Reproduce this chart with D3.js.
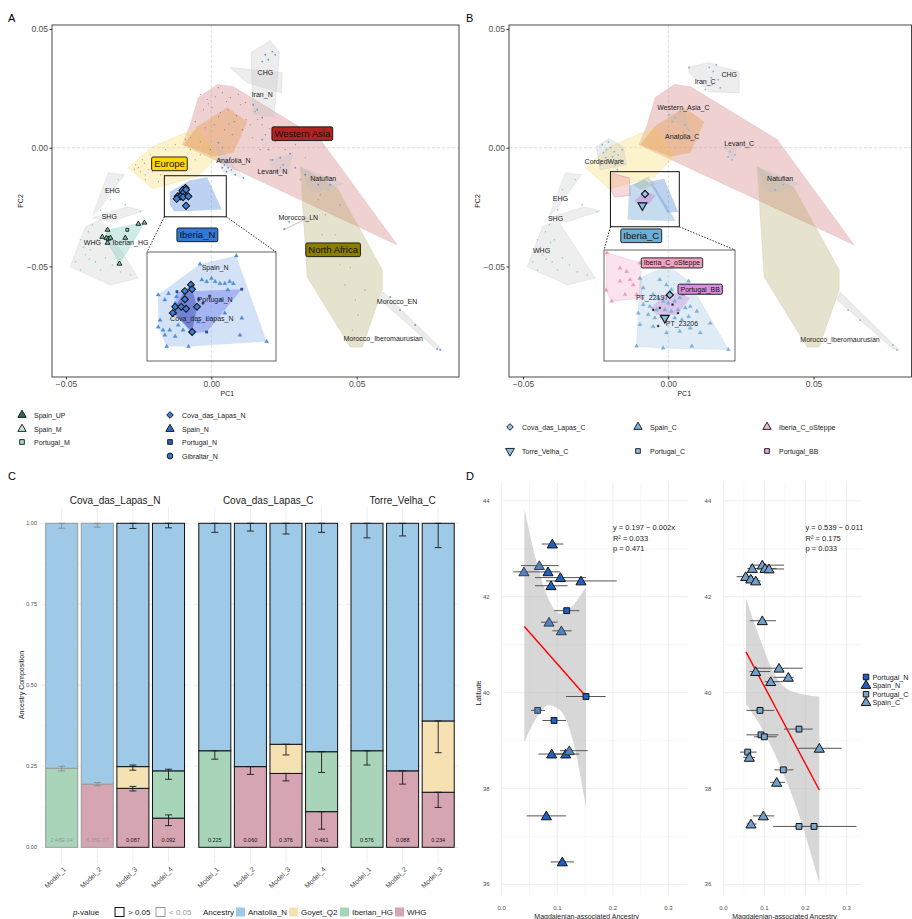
<!DOCTYPE html>
<html lang="en">
<head>
<meta charset="UTF-8" />
<title>PCA, qpAdm models and latitude</title>
<script src="https://d3js.org/d3.v7.min.js"></script>
<style>
  body { margin: 0; background: #fff; }
  svg { display: block; }
  text { font-family: "Liberation Sans", Arial, sans-serif; }
</style>
</head>
<body>
<svg width="912" height="919"></svg>
<script>
// ---------------- data: PCA reference hulls (PC1, PC2) ----------------
const westernAsiaHull = [[-0.0072,0.0097],[-0.0045,0.0211],[0.0021,0.0266],[0.0076,0.0257],[0.0375,0.0034],[0.0639,-0.0409],[-0.0100,0.0013]];
const europeHull = [[-0.0285,-0.0084],[-0.0203,0.0004],[-0.0048,0.0084],[0.0021,-0.0038],[-0.0048,-0.0122],[-0.0203,-0.0173]];
const anatoliaHull = [[-0.0096,0.0013],[-0.0048,0.0089],[0.0055,0.0169],[0.0124,0.0110],[0.0076,-0.0021],[0.0007,-0.0038]];
const northAfricaHull = [[0.0306,-0.0080],[0.0433,-0.0169],[0.0588,-0.0515],[0.0588,-0.0599],[0.0519,-0.0840],[0.0478,-0.0840],[0.0330,-0.0544]];
const natufianHull = [[0.0306,-0.0080],[0.0454,-0.0152],[0.0368,-0.0190],[0.0333,-0.0186]];
const ehgHull = [[-0.0354,-0.0105],[-0.0299,-0.0114],[-0.0381,-0.0253],[-0.0409,-0.0287]];
const shgHull = [[-0.0409,-0.0295],[-0.0289,-0.0249],[-0.0234,-0.0266],[-0.0347,-0.0312]];
const whgHull = [[-0.0485,-0.0502],[-0.0433,-0.0333],[-0.0381,-0.0304],[-0.0251,-0.0549],[-0.0347,-0.0578]];
const moroccoIbHull = [[0.0591,-0.0608],[0.0794,-0.0852],[0.0770,-0.0844],[0.0581,-0.0641]];
// panel A only
const iranNHull = [[0.0137,0.0401],[0.0203,0.0451],[0.0234,0.0401],[0.0216,0.0131],[0.0144,0.0139]];
const chgHullA = [[0.0065,0.0338],[0.0244,0.0316],[0.0241,0.0232],[0.0124,0.0274]];
const levantNHull = [[0.0203,-0.0051],[0.0282,-0.0021],[0.0265,-0.0114],[0.0203,-0.0093]];
const anatoliaNHull = [[0.0014,0.0021],[0.0072,-0.0059],[0.0110,-0.0127],[0.0038,-0.0101],[0.0024,-0.0051]];
const moroccoLNHull = [[0.0247,-0.0346],[0.0330,-0.0295],[0.0332,-0.0297],[0.0249,-0.0348]];
const iberianHGHull = [[-0.0357,-0.0346],[-0.0230,-0.0316],[-0.0316,-0.0489],[-0.0364,-0.0380]];
// panel B only
const chgIranCHull = [[0.0069,0.0338],[0.0141,0.0359],[0.0175,0.0342],[0.0244,0.0321],[0.0244,0.0232],[0.0141,0.0236],[0.0072,0.0316]];
const cordedWareHull = [[-0.0247,0.0004],[-0.0206,0.0038],[-0.0155,0.0004],[-0.0144,-0.0072],[-0.0234,-0.0093]];
const westernAsiaCHull = [[0.0003,0.0139],[0.0058,0.0152],[0.0069,0.0076],[0.0014,0.0110]];
const levantCHull = [[0.0196,0.0000],[0.0241,0.0013],[0.0230,-0.0030],[0.0220,-0.0051]];
const iberiaCHull = [[-0.0065,-0.0143],[-0.0014,-0.0131],[0.0034,-0.0270],[-0.0003,-0.0274]];
const iberiaCMixHull = [[-0.0120,-0.0156],[-0.0069,-0.0122],[-0.0045,-0.0156],[-0.0096,-0.0177]];

// ---------------- data: PCA background samples ----------------
const westernAsiaDots = [[-0.0038,0.0224],[-0.0014,0.0203],[0.0014,0.0215],[0.0038,0.0232],[0.0065,0.0211],[0.0093,0.0224],[0.0117,0.0190],
  [-0.0027,0.0160],[0.0003,0.0169],[0.0031,0.0148],[0.0058,0.0160],[0.0086,0.0135],[0.0120,0.0118],[0.0151,0.0152],[0.0175,0.0097],
  [-0.0055,0.0110],[-0.0021,0.0084],[0.0010,0.0097],[0.0045,0.0076],[0.0072,0.0055],[0.0107,0.0076],[0.0141,0.0042],[0.0186,0.0055],
  [0.0220,0.0025],[0.0254,-0.0008],[0.0289,0.0013],[0.0323,-0.0042],[-0.0072,0.0042],[-0.0038,0.0025],[-0.0003,-0.0008],[0.0038,0.0000],
  [0.0168,-0.0008],[0.0203,-0.0051],[0.0237,-0.0084],[0.0306,-0.0135],[0.0375,-0.0198],[0.0443,-0.0241],[0.0100,0.0181],[0.0024,0.0253],
  [0.0134,0.0097],[0.0079,0.0110],[0.0052,0.0194],[-0.0010,0.0185],[0.0025,0.0130],[0.0060,0.0100],[0.0160,0.0120],[0.0200,0.0080],[0.0250,0.0040]];
const europeDots = [[-0.0261,-0.0072],[-0.0237,-0.0051],[-0.0216,-0.0093],[-0.0244,-0.0101],[-0.0192,-0.0072],[-0.0175,-0.0114],
  [-0.0210,-0.0030],[-0.0158,-0.0008],[-0.0124,0.0013],[-0.0089,0.0034],[-0.0141,-0.0051],[-0.0107,-0.0072],[-0.0055,-0.0051],
  [-0.0227,-0.0135],[-0.0182,-0.0143],[-0.0072,-0.0008],[-0.0038,-0.0030],[-0.0251,-0.0084],[-0.0227,-0.0114],[-0.0203,-0.0101],
  [-0.0230,-0.0065],[-0.0200,-0.0060],[-0.0265,-0.0090],[-0.0170,-0.0080]];
const northAfricaDots = [[0.0368,-0.0219],[0.0392,-0.0283],[0.0381,-0.0367],[0.0409,-0.0430],[0.0443,-0.0494],[0.0478,-0.0506],
  [0.0460,-0.0578],[0.0495,-0.0641],[0.0505,-0.0705],[0.0529,-0.0599],[0.0426,-0.0367],[0.0347,-0.0135],[0.0402,-0.0177],[0.0485,-0.0768]];
const nearEastDotsA = [[0.0031,-0.0051],[0.0045,-0.0072],[0.0058,-0.0084],[0.0052,-0.0101],[0.0069,-0.0093],[0.0038,-0.0084],
  [0.0082,-0.0114],[0.0110,-0.0127],[0.0024,0.0021],[0.0065,-0.0042],[0.0052,-0.0059],
  [0.0210,-0.0051],[0.0237,-0.0042],[0.0247,-0.0072],[0.0271,-0.0025],[0.0227,-0.0101],[0.0289,-0.0084],[0.0175,0.0034],[0.0196,-0.0008],
  [0.0186,0.0392],[0.0196,0.0371],[0.0210,0.0405],[0.0175,0.0363],[0.0220,0.0392],[0.0158,0.0160],[0.0175,0.0127],[0.0144,0.0181],
  [0.0368,-0.0156],[0.0409,-0.0156],[0.0323,-0.0114],[0.0251,-0.0342],[0.0268,-0.0312],
  [0.0615,-0.0629],[0.0649,-0.0684],[0.0701,-0.0747],[0.0777,-0.0848],[0.0787,-0.0852]];
const hunterGathererDots = [[-0.0450,-0.0388],[-0.0433,-0.0451],[-0.0467,-0.0481],[-0.0416,-0.0430],[-0.0399,-0.0481],[-0.0381,-0.0515],
  [-0.0364,-0.0464],[-0.0423,-0.0354],[-0.0409,-0.0325],[-0.0340,-0.0494],[-0.0313,-0.0523],[-0.0278,-0.0536],[-0.0450,-0.0515],
  [-0.0392,-0.0388],[-0.0381,-0.0262],[-0.0347,-0.0219],[-0.0320,-0.0135],[-0.0364,-0.0177],[-0.0296,-0.0241],[-0.0244,-0.0270],
  [-0.0440,-0.0420],[-0.0420,-0.0470],[-0.0405,-0.0400]];
const nearEastDotsB = [[0.0141,0.0338],[0.0155,0.0321],[0.0165,0.0350],[0.0148,0.0295],[0.0172,0.0287],[0.0151,0.0266],[0.0179,0.0253],
  [0.0127,0.0245],[0.0072,0.0338],[0.0003,0.0139],[0.0024,0.0127],[0.0041,0.0152],[0.0058,0.0097],[0.0069,0.0076],[0.0014,0.0110],
  [0.0052,0.0063],[0.0076,0.0046],[0.0041,0.0034],[0.0196,0.0000],[0.0213,-0.0017],[0.0230,-0.0030],[0.0206,-0.0038],[0.0241,0.0013],
  [0.0220,-0.0051],[0.0368,-0.0177],[0.0395,-0.0156],[0.0344,-0.0135],[0.0619,-0.0684],[0.0660,-0.0726],[0.0773,-0.0831],[0.0787,-0.0852]];
const cordedWareDots = [[-0.0227,0.0013],[-0.0213,-0.0008],[-0.0199,0.0000],[-0.0186,-0.0017],[-0.0172,-0.0030],[-0.0216,-0.0042],
  [-0.0199,-0.0059],[-0.0182,-0.0072],[-0.0165,-0.0051],[-0.0158,-0.0008],[-0.0234,-0.0072],[-0.0206,0.0025],[-0.0223,-0.0021],
  [-0.0192,-0.0038],[-0.0175,-0.0093]];

// ---------------- data: focal Iberian samples ----------------
const spainHG = [[-0.0357,-0.0346],[-0.0375,-0.0376],[-0.0361,-0.0380],[-0.0354,-0.0384],[-0.0347,-0.0380],[-0.0296,-0.0380],
  [-0.0251,-0.0321],[-0.0230,-0.0316],[-0.0316,-0.0489],[-0.0357,-0.0401]];
const portugalM = [[-0.0289,-0.0346]];
const covaDasLapasN = [[-0.0089,-0.0170],[-0.0099,-0.0180],[-0.0087,-0.0177],[-0.0099,-0.0193],[-0.0115,-0.0205],
  [-0.0105,-0.0205],[-0.0097,-0.0208],[-0.0079,-0.0205],[-0.0119,-0.0215],[-0.0087,-0.0245]];
const spainN = [[-0.0014,-0.0124],[-0.0074,-0.0137],[-0.0143,-0.0186],[-0.0126,-0.0184],[-0.0113,-0.0189],[-0.0071,-0.0162],
  [-0.0063,-0.0165],[-0.0055,-0.0160],[-0.0049,-0.0165],[-0.0041,-0.0168],[-0.0033,-0.0168],[-0.0025,-0.0165],[-0.0019,-0.0168],
  [-0.0132,-0.0194],[-0.0115,-0.0199],[-0.0140,-0.0226],[-0.0143,-0.0237],[-0.0135,-0.0242],[-0.0124,-0.0242],[-0.0132,-0.0250],
  [-0.0115,-0.0252],[-0.0129,-0.0268],[-0.0110,-0.0234],[-0.0102,-0.0242],[-0.0077,-0.0229],[-0.0060,-0.0223],[-0.0033,-0.0215],
  [-0.0005,-0.0223],[-0.0008,-0.0250],[0.0036,-0.0260],[-0.0028,-0.0178],[-0.0039,-0.0194],[-0.0093,-0.0268]];
const portugalN = [[-0.0112,-0.0181],[-0.0005,-0.0177],[-0.0063,-0.0245],[-0.0087,-0.0247],[-0.0115,-0.0215],
  [-0.0076,-0.0193],[-0.0069,-0.0199],[-0.0058,-0.0188]];
const spainC = [[-0.0083,-0.0134],[-0.0134,-0.0160],[-0.0098,-0.0163],[-0.0086,-0.0174],[-0.0077,-0.0184],[-0.0110,-0.0194],
  [-0.0101,-0.0201],[-0.0092,-0.0208],[-0.0083,-0.0212],[-0.0071,-0.0208],[-0.0062,-0.0201],[-0.0056,-0.0194],[-0.0128,-0.0215],
  [-0.0116,-0.0219],[-0.0104,-0.0226],[-0.0089,-0.0226],[-0.0077,-0.0229],[-0.0065,-0.0226],[-0.0052,-0.0222],[-0.0043,-0.0219],
  [-0.0119,-0.0236],[-0.0107,-0.0243],[-0.0095,-0.0240],[-0.0071,-0.0243],[-0.0058,-0.0247],[-0.0046,-0.0240],[-0.0031,-0.0229],
  [-0.0134,-0.0257],[-0.0110,-0.0261],[-0.0062,-0.0271],[-0.0043,-0.0264],[-0.0007,-0.0254],[-0.0025,-0.0274],[-0.0140,-0.0302],
  [-0.0092,-0.0306],[-0.0040,-0.0302],[0.0026,-0.0309],[-0.0137,-0.0233],[-0.0086,-0.0274],[-0.0046,-0.0166],[-0.0128,-0.0180]];
const iberiaCoSteppe = [[-0.0194,-0.0107],[-0.0134,-0.0128],[-0.0130,-0.0201],[-0.0185,-0.0208],[-0.0195,-0.0185],[-0.0170,-0.0139],
  [-0.0158,-0.0146],[-0.0152,-0.0163],[-0.0170,-0.0166],[-0.0146,-0.0174],[-0.0161,-0.0194],[-0.0140,-0.0194]];
const portugalBB = [[-0.0116,-0.0222],[-0.0080,-0.0187],[-0.0043,-0.0201],[-0.0067,-0.0237],[-0.0103,-0.0237]];
const portugalBBDots = [[-0.0110,-0.0226],[-0.0098,-0.0222],[-0.0065,-0.0233],[-0.0101,-0.0260],[-0.0075,-0.0215]];
const covaDasLapasC = [[-0.0080,-0.0195]];
const torreVelhaC = [[-0.0089,-0.0243]];

// ---------------- data: panel C (qpAdm models) ----------------
const cFacets = ["Cova_das_Lapas_N", "Cova_das_Lapas_C", "Torre_Velha_C"];
const cModels = [["Model_1","Model_2","Model_3","Model_4"], ["Model_1","Model_2","Model_3","Model_4"], ["Model_1","Model_2","Model_3"]];
const ancestries = ["WHG", "Iberian_HG", "Goyet_Q2", "Anatolia_N"]; // stacked bottom to top
const propWHG       = [0, 0.195, 0.182, 0.090,  0, 0.249, 0.228, 0.110,  0, 0.236, 0.170];
const propIberianHG = [0.244, 0, 0, 0.146,  0.298, 0, 0, 0.185,  0.298, 0, 0];
const propGoyetQ2   = [0, 0, 0.067, 0,  0, 0, 0.090, 0,  0, 0, 0.220];
const propAnatoliaN = [0.756, 0.805, 0.751, 0.764,  0.702, 0.751, 0.682, 0.705,  0.702, 0.764, 0.610];
const errorBars = [
  [[0.236,0.250],[0.985,1.0]], [[0.190,0.200],[0.988,1.0]], [[0.174,0.188],[0.238,0.254],[0.984,1.0]], [[0.067,0.100],[0.210,0.241],[0.986,1.0]],
  [[0.272,0.298],[0.972,1.0]], [[0.225,0.249],[0.976,1.0]], [[0.205,0.228],[0.285,0.318],[0.967,1.0]], [[0.056,0.110],[0.231,0.295],[0.972,1.0]],
  [[0.254,0.298],[0.955,1.0]], [[0.195,0.236],[0.961,1.0]], [[0.123,0.170],[0.292,0.390],[0.925,1.0]]];
const pValues = ["2.48E-04","6.35E-07","0.087","0.092","0.225","0.060","0.376","0.461","0.576","0.088","0.234"];

// ---------------- data: panel D (ancestry vs latitude) ----------------
// [ancestry, latitude, lower, upper, group, faded]
const neolithicPoints = [
  [0.0910,43.10,0.0720,0.1110,"Spain_N",0],[0.0677,42.65,0.0347,0.1025,"Spain_N",1],[0.0400,42.52,0.0209,0.0629,"Spain_N",1],
  [0.0833,42.52,0.0629,0.1049,"Spain_N",0],[0.1055,42.40,0.0599,0.1516,"Spain_N",0],[0.1426,42.33,0.0797,0.2068,"Spain_N",0],
  [0.0887,42.23,0.0599,0.1187,"Spain_N",0],[0.1169,41.71,0.0946,0.1396,"Portugal_N",0],[0.0851,41.47,0.0707,0.1001,"Spain_N",1],
  [0.1073,41.29,0.0911,0.1259,"Spain_N",1],[0.1516,39.92,0.1157,0.1870,"Portugal_N",0],[0.0647,39.63,0.0527,0.0779,"Portugal_N",1],
  [0.0941,39.42,0.0731,0.1157,"Portugal_N",0],[0.0899,38.72,0.0659,0.1110,"Spain_N",0],[0.1151,38.72,0.0929,0.1396,"Spain_N",0],
  [0.1216,38.79,0.1049,0.1546,"Spain_N",1],[0.0803,37.43,0.0449,0.1157,"Spain_N",0],[0.1090,36.47,0.0881,0.1301,"Spain_N",0]];
const chalcolithicPoints = [
  [0.0949,42.66,0.0650,0.1477,"Spain_C"],[0.0706,42.59,0.0588,0.0953,"Spain_C"],[0.1015,42.59,0.0929,0.1294,"Spain_C"],
  [0.1112,42.58,0.1010,0.1477,"Spain_C"],[0.0545,42.42,0.0326,0.0732,"Spain_C"],[0.0667,42.37,0.0488,0.0853,"Spain_C"],
  [0.0788,42.33,0.0650,0.0910,"Spain_C"],[0.0949,41.50,0.0642,0.1282,"Spain_C"],[0.1355,40.51,0.0772,0.1933,"Spain_C"],
  [0.0788,40.44,0.0642,0.1140,"Spain_C"],[0.1582,40.32,0.1221,0.1707,"Spain_C"],[0.1153,40.23,0.1010,0.1456,"Spain_C"],
  [0.0893,39.63,0.0561,0.1241,"Portugal_C"],[0.1842,39.24,0.1477,0.2174,"Portugal_C"],[0.0917,39.12,0.0561,0.1343,"Portugal_C"],
  [0.0998,39.08,0.0750,0.1300,"Portugal_C"],[0.2336,38.84,0.1825,0.2880,"Spain_C"],[0.0594,38.76,0.0407,0.0812,"Portugal_C"],
  [0.0633,38.65,0.0488,0.0772,"Spain_C"],[0.1460,38.39,0.1241,0.1707,"Portugal_C"],[0.1299,38.13,0.1140,0.1505,"Spain_C"],
  [0.0974,37.43,0.0723,0.1241,"Spain_C"],[0.0674,37.26,0.0569,0.0812,"Spain_C"],[0.1842,37.21,0.1213,0.2400,"Portugal_C"],
  [0.2207,37.21,0.1700,0.3241,"Portugal_C"]];
const fitNeolithic = [[0.0407,41.38],[0.1516,39.92]];
const bandNeolithicX = [0.0407,0.0627,0.0836,0.1046,0.1286,0.1516];
const bandNeolithicHi = [43.83,42.73,41.97,41.65,41.83,42.21];
const bandNeolithicLo = [38.97,39.47,39.74,39.64,38.98,37.59];
const fitChalcolithic = [[0.0552,40.85],[0.2336,37.97]];
const bandChalcolithicX = [0.0552,0.089,0.130,0.170,0.2336];
const bandChalcolithicHi = [41.97,41.13,40.30,40.02,39.92];
const bandChalcolithicLo = [39.76,39.33,38.63,37.80,36.03];
const statsNeolithic = ["y = 0.197 \u2212 0.002x", "R\u00b2 = 0.033", "p = 0.471"];
const statsChalcolithic = ["y = 0.539 \u2212 0.011x", "R\u00b2 = 0.175", "p = 0.033"];

// ---------------- helpers ----------------
const svg = d3.select("svg");
const defs = svg.append("defs");
const fmt2 = d3.format(".2f");
const TXT = "#4d4d4d";

function clip(id, x, y, w, h) {
  defs.append("clipPath").attr("id", id).append("rect").attr("x", x).attr("y", y).attr("width", w).attr("height", h);
  return `url(#${id})`;
}
function hull(g, pts, x, y, fill, op, stroke) {
  g.append("path").datum(pts)
    .attr("d", d3.line().x(d => x(d[0])).y(d => y(d[1])).curve(d3.curveLinearClosed))
    .attr("fill", fill).attr("fill-opacity", op)
    .attr("stroke", stroke || "none").attr("stroke-width", 0.6).attr("stroke-opacity", 0.7);
}
function dots(g, pts, x, y, color, r) {
  g.selectAll(null).data(pts).join("circle")
    .attr("cx", d => x(d[0])).attr("cy", d => y(d[1])).attr("r", r).attr("fill", color);
}
function marks(g, pts, x, y, type, size, fill, stroke, sw, rot) {
  const s = d3.symbol().type(type).size(size);
  g.selectAll(null).data(pts).join("path").attr("d", s)
    .attr("transform", d => `translate(${x(d[0])},${y(d[1])}) rotate(${rot || 0})`)
    .attr("fill", fill).attr("stroke", stroke).attr("stroke-width", sw);
}
function txt(g, s, px, py, size, opts = {}) {
  return g.append("text").attr("x", px).attr("y", py).attr("font-size", size)
    .attr("text-anchor", opts.anchor || "middle").attr("dominant-baseline", "central")
    .attr("fill", opts.fill || "#1a1a1a").attr("font-style", opts.italic ? "italic" : null).text(s);
}
function boxLabel(g, s, px, py, size, fill) {
  const t = txt(g, s, px, py, size, { fill: "#111" });
  const w = t.node().getComputedTextLength();
  g.insert("rect", () => t.node()).attr("x", px - w / 2 - 2.5).attr("y", py - size * 0.72)
    .attr("width", w + 5).attr("height", size * 1.44).attr("rx", 1.5)
    .attr("fill", fill).attr("stroke", "#111").attr("stroke-width", 0.9);
}

// ---------------- panels A and B: PCA ----------------
const yPC = d3.scaleLinear().domain([0.0517, -0.0966]).range([25, 377]);
const xA = d3.scaleLinear().domain([-0.0548, 0.0852]).range([52, 459]);
const xB = d3.scaleLinear().domain([-0.0548, 0.0837]).range([509, 911.5]);

function pcaFrame(x, name, letterX) {
  const [l, r] = x.range();
  const g = svg.append("g");
  const body = g.append("g").attr("clip-path", clip("clip" + name, l, 25, r - l, 352));
  body.append("line").attr("x1", x(0)).attr("x2", x(0)).attr("y1", 25).attr("y2", 377)
    .attr("stroke", "#cfcfcf").attr("stroke-dasharray", "3,2").attr("stroke-width", 0.7);
  body.append("line").attr("x1", l).attr("x2", r).attr("y1", yPC(0)).attr("y2", yPC(0))
    .attr("stroke", "#cfcfcf").attr("stroke-dasharray", "3,2").attr("stroke-width", 0.7);
  g.append("rect").attr("x", l).attr("y", 25).attr("width", r - l).attr("height", 352)
    .attr("fill", "none").attr("stroke", "#333").attr("stroke-width", 0.9);
  const ax = g.append("g").attr("transform", "translate(0,377)")
    .call(d3.axisBottom(x).tickValues([-0.05, 0, 0.05]).tickFormat(fmt2).tickSize(2.5).tickPadding(1.5));
  const ay = g.append("g").attr("transform", `translate(${l},0)`)
    .call(d3.axisLeft(yPC).tickValues([-0.05, 0, 0.05]).tickFormat(fmt2).tickSize(2.5).tickPadding(1.5));
  [ax, ay].forEach(a => {
    a.select(".domain").remove();
    a.selectAll("line").attr("stroke", "#333");
    a.selectAll("text").attr("font-size", 8.5).attr("fill", TXT).attr("font-family", "Liberation Sans, Arial, sans-serif");
  });
  txt(g, "PC1", x(0.0055), 393, 7);
  txt(g, "PC2", 0, 0, 7).attr("transform", `translate(${l - 32},201) rotate(-90)`);
  txt(g, name, letterX, 18, 11, { anchor: "start", fill: "#000" });
  return body;
}
function backgroundHulls(g, x) {
  hull(g, westernAsiaHull, x, yPC, "#d47f7f", 0.36, "#e0b0b0");
  hull(g, europeHull, x, yPC, "#f7dc6f", 0.36, "#f0e0a0");
  hull(g, anatoliaHull, x, yPC, "#e59a4f", 0.40);
  hull(g, northAfricaHull, x, yPC, "#a89f5a", 0.30, "#d0cca8");
  hull(g, natufianHull, x, yPC, "#bdbdbd", 0.28, "#cccccc");
  hull(g, ehgHull, x, yPC, "#bdbdbd", 0.25, "#d5d5d5");
  hull(g, shgHull, x, yPC, "#bdbdbd", 0.25, "#d5d5d5");
  hull(g, whgHull, x, yPC, "#bdbdbd", 0.25, "#d5d5d5");
  hull(g, moroccoIbHull, x, yPC, "#bdbdbd", 0.30, "#cccccc");
}
function zoomBox(g, x, rect, inX, inY) {
  const [x0, x1] = rect[0], [y0, y1] = rect[1];
  g.append("rect").attr("x", x(x0)).attr("y", yPC(y0)).attr("width", x(x1) - x(x0)).attr("height", yPC(y1) - yPC(y0))
    .attr("fill", "none").attr("stroke", "#111").attr("stroke-width", 1);
  const [ix0, ix1] = inX.range(), [iy0, iy1] = inY.range();
  g.append("rect").attr("x", ix0).attr("y", iy0).attr("width", ix1 - ix0).attr("height", iy1 - iy0)
    .attr("fill", "none").attr("stroke", "#555").attr("stroke-width", 0.9);
  [[x(x0), ix0], [x(x1), ix1]].forEach(([a, b]) =>
    g.append("line").attr("x1", a).attr("y1", yPC(y1)).attr("x2", b).attr("y2", iy0)
      .attr("stroke", "#111").attr("stroke-dasharray", "1.5,1.5").attr("stroke-width", 0.9));
}
const hullOf = pts => d3.polygonHull(pts.map(p => p.slice()));

// ----- panel A -----
{
  const g = pcaFrame(xA, "A", 8);
  backgroundHulls(g, xA);
  hull(g, iranNHull, xA, yPC, "#bdbdbd", 0.28, "#cccccc");
  hull(g, chgHullA, xA, yPC, "#bdbdbd", 0.28, "#cccccc");
  hull(g, levantNHull, xA, yPC, "#bdbdbd", 0.25);
  hull(g, anatoliaNHull, xA, yPC, "#bdbdbd", 0.25);
  hull(g, moroccoLNHull, xA, yPC, "#bdbdbd", 0.5, "#bbbbbb");
  hull(g, iberianHGHull, xA, yPC, "#7fcdb5", 0.38, "#9fd8c8");
  hull(g, hullOf(spainN), xA, yPC, "#5b8fe0", 0.40);
  dots(g, westernAsiaDots, xA, yPC, "#8a7272", 0.55);
  dots(g, europeDots, xA, yPC, "#9c8f6a", 0.55);
  dots(g, northAfricaDots, xA, yPC, "#8d8770", 0.55);
  dots(g, hunterGathererDots, xA, yPC, "#8fd0bc", 0.8);
  dots(g, nearEastDotsA, xA, yPC, "#5a96dc", 0.9);
  marks(g, spainHG, xA, yPC, d3.symbolTriangle, 10, "#7fcdb5", "#111", 0.9);
  marks(g, portugalM, xA, yPC, d3.symbolSquare, 8, "#a8dcc8", "#111", 0.9);
  marks(g, covaDasLapasN, xA, yPC, d3.symbolSquare, 26, "#3a7fd5", "#111", 1, 45);
  [["CHG",0.0186,0.0316],["Iran_N",0.0175,0.0224],["Anatolia_N",0.0076,-0.0055],["Levant_N",0.0210,-0.0101],
   ["Natufian",0.0385,-0.0131],["Morocco_LN",0.0299,-0.0295],["Morocco_EN",0.0639,-0.0646],
   ["Morocco_Iberomaurusian",0.0591,-0.0802],["EHG",-0.0340,-0.0181],["SHG",-0.0351,-0.0291],
   ["WHG",-0.0409,-0.0401],["Iberian_HG",-0.0278,-0.0401]]
    .forEach(([s, a, b]) => txt(g, s, xA(a), yPC(b), 7));
  boxLabel(g, "Western Asia", xA(0.0313), yPC(0.0059), 9.5, "#b22222");
  boxLabel(g, "Europe", xA(-0.0144), yPC(-0.0068), 9.5, "#ffd700");
  boxLabel(g, "Iberia_N", xA(-0.0048), yPC(-0.0367), 9.5, "#3478d4");
  boxLabel(g, "North Africa", xA(0.0419), yPC(-0.0430), 9.5, "#8b7d00");

  const inX = d3.scaleLinear().domain([-0.01615, 0.00515]).range([147, 276]);
  const inY = d3.scaleLinear().domain([-0.0118, -0.0291]).range([252, 361]);
  zoomBox(svg, xA, [[-0.01615, 0.00515], [-0.0118, -0.0291]], inX, inY);
  const gi = svg.append("g").attr("clip-path", clip("clipAin", 147, 252, 129, 109));
  hull(gi, hullOf(spainN), inX, inY, "#7aa6e6", 0.32);
  hull(gi, hullOf(portugalN), inX, inY, "#6f7ff0", 0.45);
  hull(gi, hullOf(covaDasLapasN), inX, inY, "#3444b0", 0.45);
  marks(gi, spainN, inX, inY, d3.symbolTriangle, 7, "#4a8fe0", "#3a7fd0", 0.3);
  marks(gi, portugalN, inX, inY, d3.symbolSquare, 5, "#2a5fb8", "#111", 0.4);
  marks(gi, covaDasLapasN, inX, inY, d3.symbolSquare, 24, "#3a7fd5", "#111", 1, 45);
  txt(gi, "Spain_N", inX(-0.0049), inY(-0.0142), 7);
  txt(gi, "Portugal_N", inX(-0.0049), inY(-0.0193), 7);
  txt(gi, "Cova_das_Lapas_N", inX(-0.0071), inY(-0.0223), 7);
}

// ----- panel B -----
{
  const g = pcaFrame(xB, "B", 466);
  backgroundHulls(g, xB);
  hull(g, chgIranCHull, xB, yPC, "#bdbdbd", 0.28, "#cccccc");
  hull(g, cordedWareHull, xB, yPC, "#bdbdbd", 0.28, "#cccccc");
  hull(g, westernAsiaCHull, xB, yPC, "#bdbdbd", 0.25);
  hull(g, levantCHull, xB, yPC, "#bdbdbd", 0.25);
  hull(g, hullOf(iberiaCoSteppe), xB, yPC, "#e8909e", 0.35, "#c98a96");
  hull(g, hullOf(spainC), xB, yPC, "#7fb0da", 0.45);
  hull(g, iberiaCHull, xB, yPC, "#5a8fd8", 0.40);
  hull(g, iberiaCMixHull, xB, yPC, "#9fb59a", 0.40);
  hull(g, hullOf(portugalBB), xB, yPC, "#cf7fd6", 0.45);
  dots(g, hunterGathererDots, xB, yPC, "#8fd0bc", 0.8);
  dots(g, nearEastDotsB, xB, yPC, "#7ab8dc", 0.9);
  dots(g, cordedWareDots, xB, yPC, "#7ab8dc", 0.9);
  marks(g, covaDasLapasC, xB, yPC, d3.symbolSquare, 26, "#9cc3e0", "#111", 1.1, 45);
  marks(g, torreVelhaC, xB, yPC, d3.symbolTriangle, 34, "#8cbde0", "#111", 1.1, 180);
  [["CHG",0.0210,0.0308],["Iran_C",0.0127,0.0278],["Western_Asia_C",0.0052,0.0169],["Anatolia_C",0.0048,0.0046],
   ["Levant_C",0.0244,0.0017],["Natufian",0.0385,-0.0131],["CordedWare",-0.0220,-0.0059],["EHG",-0.0371,-0.0215],
   ["SHG",-0.0388,-0.0300],["WHG",-0.0436,-0.0435],["Morocco_Iberomaurusian",0.0591,-0.0806]]
    .forEach(([s, a, b]) => txt(g, s, xB(a), yPC(b), 7));
  boxLabel(g, "Iberia_C", xB(-0.0093), yPC(-0.0371), 9.5, "#6baed6");

  const inX = d3.scaleLinear().domain([-0.0199, 0.0038]).range([604, 735]);
  const inY = d3.scaleLinear().domain([-0.0101, -0.0333]).range([250, 361]);
  zoomBox(svg, xB, [[-0.0199, 0.0038], [-0.0101, -0.0333]], inX, inY);
  const gi = svg.append("g").attr("clip-path", clip("clipBin", 604, 250, 131, 111));
  hull(gi, hullOf(iberiaCoSteppe), inX, inY, "#f29bbd", 0.28, "#f0b0c8");
  hull(gi, hullOf(spainC), inX, inY, "#9cc3e2", 0.32, "#c0d8ea");
  hull(gi, hullOf(portugalBB), inX, inY, "#cf7fd6", 0.35);
  marks(gi, iberiaCoSteppe, inX, inY, d3.symbolTriangle, 7, "#f0a0bf", "#e58aae", 0.3);
  marks(gi, spainC, inX, inY, d3.symbolTriangle, 7, "#7fb3d8", "#6aa4cc", 0.3);
  marks(gi, portugalBBDots, inX, inY, d3.symbolSquare, 3, "#222", "#111", 0.3);
  marks(gi, covaDasLapasC, inX, inY, d3.symbolSquare, 26, "#9cc3e0", "#111", 1.1, 45);
  marks(gi, torreVelhaC, inX, inY, d3.symbolTriangle, 34, "#8cbde0", "#111", 1.1, 180);
  boxLabel(gi, "Iberia_C_oSteppe", inX(-0.0076), inY(-0.0128), 7, "#f4a0c0");
  boxLabel(gi, "Portugal_BB", inX(-0.0025), inY(-0.0183), 7, "#d98ee0");
  txt(gi, "PT_22197", inX(-0.0112), inY(-0.0201), 7);
  txt(gi, "PT_23206", inX(-0.0058), inY(-0.0254), 7);
}

// ----- legends A / B -----
{
  const g = svg.append("g");
  const items = [
    [22, 415, "Spain_UP", d3.symbolTriangle, 30, "#2e6e62", 0],
    [22, 429, "Spain_M", d3.symbolTriangle, 30, "#bfe6da", 0],
    [22, 442, "Portugal_M", d3.symbolSquare, 22, "#a8dcc8", 0],
    [170, 415, "Cova_das_Lapas_N", d3.symbolSquare, 22, "#3a7fd5", 45],
    [170, 429, "Spain_N", d3.symbolTriangle, 30, "#2a6cc8", 0],
    [170, 442, "Portugal_N", d3.symbolSquare, 22, "#2a5fb8", 0],
    [170, 456, "Gibraltar_N", d3.symbolCircle, 26, "#3a75c8", 0],
    [510, 427, "Cova_das_Lapas_C", d3.symbolSquare, 22, "#9cc3e0", 45],
    [510, 451, "Torre_Velha_C", d3.symbolTriangle, 34, "#8cbde0", 180],
    [638, 427, "Spain_C", d3.symbolTriangle, 30, "#7ab0d8", 0],
    [638, 451, "Portugal_C", d3.symbolSquare, 22, "#8fc0e0", 0],
    [767, 427, "Iberia_C_oSteppe", d3.symbolTriangle, 30, "#f4b6cf", 0],
    [767, 451, "Portugal_BB", d3.symbolSquare, 22, "#e8a9d9", 0]];
  items.forEach(([px, py, s, type, size, fill, rot]) => {
    g.append("path").attr("d", d3.symbol().type(type).size(size)())
      .attr("transform", `translate(${px},${py}) rotate(${rot})`)
      .attr("fill", fill).attr("stroke", "#111").attr("stroke-width", 0.9);
    txt(g, s, px + 12, py, 7, { anchor: "start" });
  });
}

// ---------------- panel C: qpAdm stacked bars ----------------
{
  const g = svg.append("g");
  txt(g, "C", 8, 476, 11, { anchor: "start", fill: "#000" });
  const y = d3.scaleLinear().domain([0, 1]).range([847.3, 523.3]);
  const colors = { WHG: "#d5a5b1", Iberian_HG: "#a8d5b9", Goyet_Q2: "#f5e1b2", Anatolia_N: "#9ecae8" };
  const props = { WHG: propWHG, Iberian_HG: propIberianHG, Goyet_Q2: propGoyetQ2, Anatolia_N: propAnatoliaN };
  const facetRanges = [[43.9, 186.3], [197, 339.4], [349.2, 456]];
  let k = 0;
  cFacets.forEach((facet, fi) => {
    const [f0, f1] = facetRanges[fi];
    const x = d3.scaleBand().domain(cModels[fi]).range([f0, f1]).paddingInner(0.1).paddingOuter(0.05);
    d3.range(0, 1.001, 0.125).forEach((v, i) =>
      g.append("line").attr("x1", f0 - 3).attr("x2", f1 + 3).attr("y1", y(v)).attr("y2", y(v))
        .attr("stroke", i % 2 ? "#f3f3f3" : "#e6e6e6").attr("stroke-width", i % 2 ? 0.5 : 0.7));
    cModels[fi].forEach(m =>
      g.append("line").attr("x1", x(m) + x.bandwidth() / 2).attr("x2", x(m) + x.bandwidth() / 2)
        .attr("y1", 507).attr("y2", 863).attr("stroke", "#e6e6e6").attr("stroke-width", 0.7));
    txt(g, facet, (f0 + f1) / 2, 500, 10, { fill: "#1a1a1a" });
    cModels[fi].forEach(m => {
      const sig = +pValues[k] > 0.05;
      const edge = sig ? "#111" : "#9a9a9a";
      let cum = 0;
      ancestries.forEach(a => {
        const v = props[a][k];
        if (v > 0) {
          g.append("rect").attr("x", x(m)).attr("width", x.bandwidth())
            .attr("y", y(cum + v)).attr("height", y(cum) - y(cum + v))
            .attr("fill", colors[a]).attr("stroke", edge).attr("stroke-width", 1);
        }
        cum += v;
      });
      const cx = x(m) + x.bandwidth() / 2;
      errorBars[k].forEach(([lo, hi]) => {
        const eg = g.append("g").attr("stroke", sig ? "#1a1a1a" : "#8a8a8a").attr("stroke-width", 0.9);
        eg.append("line").attr("x1", cx).attr("x2", cx).attr("y1", y(lo)).attr("y2", y(hi));
        [lo, hi].forEach(v => eg.append("line").attr("x1", cx - 3.5).attr("x2", cx + 3.5).attr("y1", y(v)).attr("y2", y(v)));
      });
      txt(g, pValues[k], cx, 840, 5.5, { fill: sig ? "#111" : "#9a9a9a" });
      txt(g, m, 0, 0, 7, { anchor: "end", fill: TXT }).attr("transform", `translate(${cx + 3},${868}) rotate(-45)`);
      k++;
    });
  });
  [0, 0.25, 0.5, 0.75, 1].forEach(v => txt(g, fmt2(v), 37, y(v), 5.5, { anchor: "end", fill: TXT }));
  txt(g, "Ancestry Composition", 0, 0, 7).attr("transform", "translate(21,685) rotate(-90)");
  const ly = 912;
  const lp = g.append("text").attr("x", 86).attr("y", ly).attr("font-size", 8).attr("text-anchor", "middle")
    .attr("dominant-baseline", "central").attr("fill", "#1a1a1a");
  lp.append("tspan").attr("font-style", "italic").text("p");
  lp.append("tspan").text("-value");
  [[115, "#111", "> 0.05", "#1a1a1a"], [156, "#9a9a9a", "< 0.05", "#9a9a9a"]].forEach(([bx, st, s, f]) => {
    g.append("rect").attr("x", bx).attr("y", ly - 4.5).attr("width", 9).attr("height", 9)
      .attr("fill", "#fff").attr("stroke", st).attr("stroke-width", 1);
    txt(g, s, bx + 13, ly, 8, { anchor: "start", fill: f });
  });
  txt(g, "Ancestry", 203, ly, 8, { anchor: "start" });
  [["Anatolia_N", 236], ["Goyet_Q2", 289], ["Iberian_HG", 340], ["WHG", 395]].forEach(([a, bx]) => {
    g.append("rect").attr("x", bx).attr("y", ly - 4.5).attr("width", 9).attr("height", 9).attr("fill", colors[a]);
    txt(g, a, bx + 12, ly, 8, { anchor: "start" });
  });
}

// ---------------- panel D: Magdalenian ancestry vs latitude ----------------
{
  const g = svg.append("g");
  txt(g, "D", 466, 476, 11, { anchor: "start", fill: "#000" });
  const y = d3.scaleLinear().domain([35.78, 44.4]).range([895, 481.7]);
  const styles = {
    Spain_N: [d3.symbolTriangle, "#1f62c4"], Portugal_N: [d3.symbolSquare, "#1f62c4"],
    Spain_C: [d3.symbolTriangle, "#6f9fca"], Portugal_C: [d3.symbolSquare, "#7fa8cc"] };
  function subplot(x, pts, fit, bx, bhi, blo, stats, id) {
    const [l, r] = x.range();
    [0.05, 0.15, 0.25].forEach(v => g.append("line").attr("x1", x(v)).attr("x2", x(v)).attr("y1", 481.7).attr("y2", 895)
      .attr("stroke", "#f2f2f2").attr("stroke-width", 0.6));
    [37, 39, 41, 43].forEach(v => g.append("line").attr("x1", l).attr("x2", r).attr("y1", y(v)).attr("y2", y(v))
      .attr("stroke", "#f2f2f2").attr("stroke-width", 0.6));
    [0, 0.1, 0.2, 0.3].forEach(v => {
      g.append("line").attr("x1", x(v)).attr("x2", x(v)).attr("y1", 481.7).attr("y2", 895).attr("stroke", "#e8e8e8").attr("stroke-width", 0.8);
      txt(g, v.toFixed(1), x(v), 908, 6, { fill: TXT });
    });
    [36, 38, 40, 42, 44].forEach(v => {
      g.append("line").attr("x1", l).attr("x2", r).attr("y1", y(v)).attr("y2", y(v)).attr("stroke", "#e8e8e8").attr("stroke-width", 0.8);
      txt(g, v, l - 12, y(v), 6, { anchor: "end", fill: TXT });
    });
    const band = bx.map((v, i) => [v, blo[i], bhi[i]]);
    g.append("path").datum(band)
      .attr("d", d3.area().x(d => x(d[0])).y0(d => y(d[1])).y1(d => y(d[2])).curve(d3.curveMonotoneX))
      .attr("fill", "#bdbdbd").attr("fill-opacity", 0.6);
    g.append("line").attr("x1", x(fit[0][0])).attr("y1", y(fit[0][1])).attr("x2", x(fit[1][0])).attr("y2", y(fit[1][1]))
      .attr("stroke", "#ff0000").attr("stroke-width", 1.4);
    pts.forEach(p => g.append("line").attr("x1", x(p[2])).attr("x2", x(p[3])).attr("y1", y(p[1])).attr("y2", y(p[1]))
      .attr("stroke", "#555").attr("stroke-width", 1));
    pts.forEach(p => {
      const [type, fill] = styles[p[4]];
      const tri = type === d3.symbolTriangle;
      g.append("path").attr("d", d3.symbol().type(type).size(tri ? 44 : 34)())
        .attr("transform", `translate(${x(p[0])},${y(p[1]) + (tri ? 1 : 0)})`)
        .attr("fill", p[5] ? "#4f82c6" : fill).attr("stroke", p[5] ? "#3a3a3a" : "#111").attr("stroke-width", 1);
    });
    const tg = g.append("g").attr("clip-path", clip(id, l, 481, r - l + 1, 420));
    stats.forEach((s, i) => txt(tg, s, x(0.2), 527.7 + i * 10.3, 7.5, { anchor: "start" }));
    txt(g, "Magdalenian-associated Ancestry", (l + r) / 2 - 8, 916, 7);
  }
  subplot(d3.scaleLinear().domain([0, 0.3345]).range([501.7, 687.7]), neolithicPoints, fitNeolithic,
    bandNeolithicX, bandNeolithicHi, bandNeolithicLo, statsNeolithic, "clipD1");
  subplot(d3.scaleLinear().domain([0, 0.3367]).range([723.3, 861.7]), chalcolithicPoints, fitChalcolithic,
    bandChalcolithicX, bandChalcolithicHi, bandChalcolithicLo, statsChalcolithic, "clipD2");
  txt(g, "Latitude", 0, 0, 7).attr("transform", "translate(478,693) rotate(-90)");
  ["Portugal_N", "Spain_N", "Portugal_C", "Spain_C"].forEach((s, i) => {
    const [type, fill] = styles[s];
    const py = 677 + i * 8.6;
    g.append("path").attr("d", d3.symbol().type(type).size(type === d3.symbolTriangle ? 40 : 30)())
      .attr("transform", `translate(866,${py})`).attr("fill", fill).attr("stroke", "#111").attr("stroke-width", 1);
    txt(g, s, 872.5, py, 7.2, { anchor: "start" });
  });
}
</script>
</body>
</html>
